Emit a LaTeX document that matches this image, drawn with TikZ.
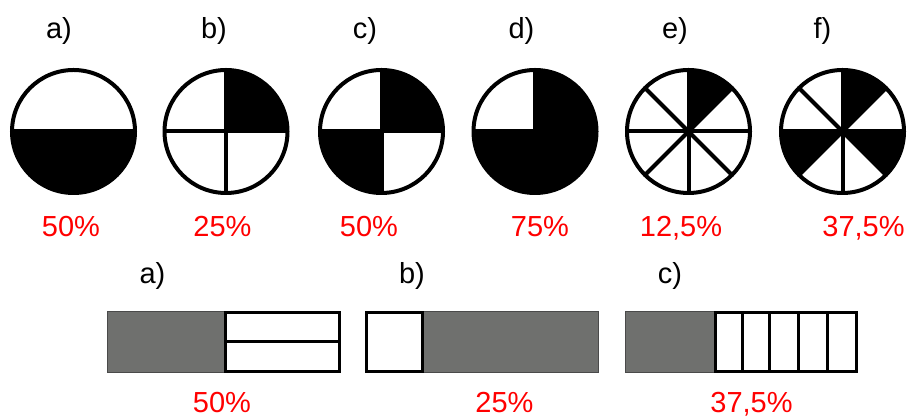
\documentclass[tikz,border=0pt]{standalone}
\usepackage{fontspec}
\setmainfont{Liberation Sans}
\definecolor{barGray}{HTML}{6F706E}
\definecolor{barEdge}{HTML}{4A4A4A}
\begin{document}
\begin{tikzpicture}[x=1pt,y=1pt,
  lbl/.style={font=\fontsize{29}{32}\selectfont, inner sep=0pt, anchor=base},
  pct/.style={font=\fontsize{29}{32}\selectfont, text=red, inner sep=0pt, anchor=base},
  rim/.style={draw=black, line width=4pt},
  spoke/.style={draw=black, line width=4pt},
  graybar/.style={fill=barGray, draw=barEdge, line width=1pt},
  whitecell/.style={fill=white, draw=black, line width=3pt},
  divider/.style={draw=black, line width=3pt}]
\useasboundingbox (0,0) rectangle (908,419);
\def\R{61.5pt}
% circle centres
\coordinate (A) at (73.5,287.5);
\coordinate (B) at (226,287.5);
\coordinate (C) at (381.5,287.5);
\coordinate (D) at (535,287.5);
\coordinate (E) at (688.5,287.5);
\coordinate (F) at (842.5,287.5);
% a) half
\fill[black] (A) ++(180:\R) arc[start angle=180,end angle=360,radius=\R] -- cycle;
\draw[spoke] (A) ++(180:\R) -- ++(0:123pt);
\draw[rim] (A) circle[radius=\R];
% b) quarter
\fill[black] (B) -- ++(0:\R) arc[start angle=0,end angle=90,radius=\R] -- cycle;
\draw[spoke] (B) ++(180:\R) -- ++(0:123pt);
\draw[spoke] (B) ++(270:\R) -- ++(90:123pt);
\draw[rim] (B) circle[radius=\R];
% c) two quarters
\fill[black] (C) -- ++(0:\R) arc[start angle=0,end angle=90,radius=\R] -- cycle;
\fill[black] (C) -- ++(180:\R) arc[start angle=180,end angle=270,radius=\R] -- cycle;
\draw[spoke] (C) ++(180:\R) -- ++(0:123pt);
\draw[spoke] (C) ++(270:\R) -- ++(90:123pt);
\draw[rim] (C) circle[radius=\R];
% d) three quarters
\fill[black] (D) -- ++(180:\R) arc[start angle=180,end angle=450,radius=\R] -- cycle;
\draw[spoke] (D) ++(180:\R) -- ++(0:123pt);
\draw[spoke] (D) ++(270:\R) -- ++(90:123pt);
\draw[rim] (D) circle[radius=\R];
% e) one eighth
\fill[black] (E) -- ++(45:\R) arc[start angle=45,end angle=90,radius=\R] -- cycle;
\foreach \a in {0,45,90,135}{\draw[spoke] (E) ++(\a:\R) -- ++(\a+180:123pt);}
\draw[rim] (E) circle[radius=\R];
% f) three eighths
\fill[black] (F) -- ++(45:\R) arc[start angle=45,end angle=90,radius=\R] -- cycle;
\fill[black] (F) -- ++(180:\R) arc[start angle=180,end angle=225,radius=\R] -- cycle;
\fill[black] (F) -- ++(315:\R) arc[start angle=315,end angle=360,radius=\R] -- cycle;
\foreach \a in {0,45,90,135}{\draw[spoke] (F) ++(\a:\R) -- ++(\a+180:123pt);}
\draw[rim] (F) circle[radius=\R];
% top labels
\node[lbl] (la) at (59,380.5) {a)};
\node[lbl] (lb) at (214,380.5) {b)};
\node[lbl] (lc) at (365,380.5) {c)};
\node[lbl] (ld) at (521.5,380.5) {d)};
\node[lbl] (le) at (675,380.5) {e)};
\node[lbl] (lf) at (822.5,380.5) {f)};
% top percentages
\node[pct] (pa) at (71,182.5) {50\%};
\node[pct] (pb) at (222.5,182.5) {25\%};
\node[pct] (pc) at (369,182.5) {50\%};
\node[pct] (pd) at (540,182.5) {75\%};
\node[pct] (pe) at (681,182.5) {12,5\%};
\node[pct] (pf) at (863.5,182.5) {37,5\%};
% bars
\draw[graybar] (107.5,46.5) rectangle (340.5,107.5);
\draw[whitecell] (225.5,47.5) rectangle (339.5,106.5);
\draw[divider] (225.5,77) -- (339.5,77);
\draw[graybar] (365.5,46.5) rectangle (598.5,107.5);
\draw[whitecell] (366.5,47.5) rectangle (422.5,106.5);
\draw[graybar] (625.5,46.5) rectangle (857.5,107.5);
\draw[whitecell] (715,47.5) rectangle (856.5,106.5);
\foreach \x in {742,769.5,798,827}{\draw[divider] (\x,47.5) -- (\x,106.5);}
% bottom labels
\node[lbl] (ba) at (152.5,135.5) {a)};
\node[lbl] (bb) at (412,135.5) {b)};
\node[lbl] (bc) at (670,135.5) {c)};
\node[pct] (qa) at (222,6) {50\%};
\node[pct] (qb) at (504.5,6) {25\%};
\node[pct] (qc) at (751.5,6) {37,5\%};
\end{tikzpicture}
\end{document}
